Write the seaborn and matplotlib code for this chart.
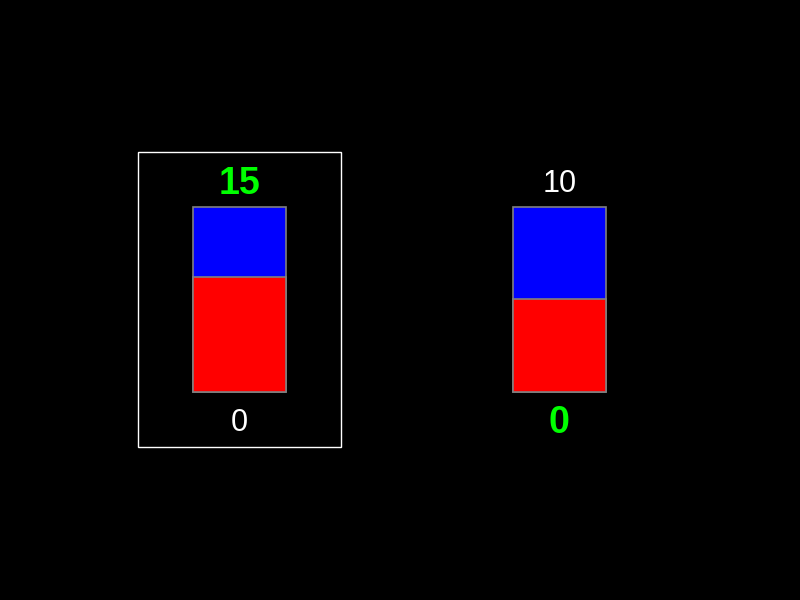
import matplotlib
matplotlib.use('Agg')
import matplotlib.pyplot as plt
import seaborn as sns
import pandas as pd
from matplotlib.patches import Rectangle

# data
columns = ['A', 'B']
top_values = [15, 10]
bottom_values = [0, 0]
red_share = [0.62, 0.50]   # lower (red) part of each bar, as fraction of the bar
highlight_top = [True, False]
highlight_bottom = [False, True]

df = pd.DataFrame({'column': columns, 'total': [1.0, 1.0], 'red': red_share})

sns.set_style('dark')
plt.rcParams['font.family'] = ['Liberation Sans', 'DejaVu Sans']

fig = plt.figure(figsize=(8, 6), dpi=100, facecolor='black')
ax = fig.add_axes([0, 0, 1, 1])
ax.set_facecolor('black')

# whole bar in blue, red share drawn over its lower part
sns.barplot(data=df, x='column', y='total', color='#0000ff', saturation=1,
            width=0.29, edgecolor='#808080', linewidth=1.2, ax=ax)
sns.barplot(data=df, x='column', y='red', color='#ff0000', saturation=1,
            width=0.29, edgecolor='#808080', linewidth=1.2, ax=ax)

for i in range(len(columns)):
    if highlight_top[i]:
        ax.text(i, 1.125, str(top_values[i]), color='#00ff00', fontsize=27,
                fontweight='bold', ha='center', va='center')
    else:
        ax.text(i, 1.125, str(top_values[i]), color='white', fontsize=22,
                ha='center', va='center')
    if highlight_bottom[i]:
        ax.text(i, -0.168, str(bottom_values[i]), color='#00ff00', fontsize=27,
                fontweight='bold', ha='center', va='center')
    else:
        ax.text(i, -0.168, str(bottom_values[i]), color='white', fontsize=22,
                ha='center', va='center')

# frame around the first column
ax.add_patch(Rectangle((-0.317, -0.298), 0.634, 1.591, fill=False,
                       edgecolor='white', linewidth=1))

ax.set_xlim(-0.748, 1.752)
ax.set_ylim(-1.1225, 2.1155)
ax.axis('off')

fig.savefig('out.png', dpi=100, facecolor='black')
